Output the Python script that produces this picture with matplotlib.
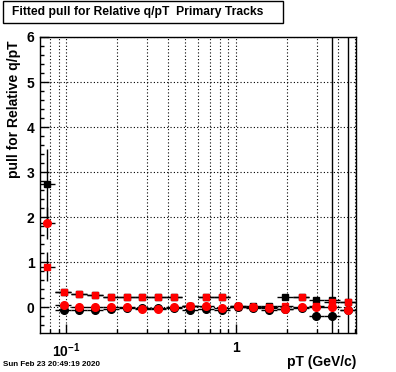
import numpy as np
import matplotlib
matplotlib.use("Agg")
from matplotlib import pyplot as plt
from matplotlib.patches import Rectangle
from matplotlib.ticker import FixedLocator, NullFormatter, FixedFormatter

plt.rcParams['font.family'] = ['Liberation Sans', 'DejaVu Sans']
plt.rcParams['font.weight'] = 'bold'
plt.rcParams['mathtext.fontset'] = 'custom'
plt.rcParams['mathtext.rm'] = 'Liberation Sans:bold'
plt.rcParams['mathtext.bf'] = 'Liberation Sans:bold'

# pT bins (GeV/c): edges and centres
bin_edges = [0.0700, 0.0862, 0.107, 0.133, 0.165, 0.205, 0.254, 0.315, 0.388, 0.481,
             0.597, 0.741, 0.921, 1.141, 1.405, 1.74, 2.17, 2.69, 3.32, 4.12, 5.1]
pt = [0.0773, 0.0964, 0.1188, 0.1486, 0.184, 0.2295, 0.281, 0.3476, 0.432, 0.536,
      0.666, 0.824, 1.03, 1.264, 1.563, 1.94, 2.436, 2.98, 3.70, 4.58]

# fitted pull values
black_sq = [2.73, 0.33, 0.30, 0.27, 0.23, 0.22, 0.23, 0.22, 0.22, 0.03,
            0.22, 0.22, 0.02, 0.02, 0.02, 0.22, 0.22, 0.17, 0.17, 0.12]
black_sq_err = [0.78, 0.03, 0.03, 0.03, 0.03, 0.03, 0.03, 0.03, 0.03, 0.03,
                0.03, 0.03, 0.03, 0.03, 0.03, 0.03, 0.03, 0.05, 9.0, 0.05]
red_sq = [0.90, 0.33, 0.30, 0.27, 0.23, 0.22, 0.23, 0.22, 0.22, 0.04,
          0.22, 0.22, 0.01, 0.00, 0.00, 0.04, 0.22, 0.02, 0.12, 0.12]
red_sq_err = [0.32, 0.03, 0.03, 0.03, 0.03, 0.03, 0.03, 0.03, 0.03, 0.03,
              0.03, 0.03, 0.03, 0.03, 0.03, 0.03, 0.03, 0.05, 0.05, 0.05]
black_ci = [np.nan, -0.07, -0.05, -0.05, -0.03, -0.02, -0.01, -0.01, -0.01, -0.07,
            -0.03, -0.07, 0.00, -0.01, -0.05, -0.03, -0.02, -0.20, -0.20, -0.05]
black_ci_err = [0.0, 0.03, 0.03, 0.03, 0.03, 0.03, 0.03, 0.03, 0.03, 0.03,
                0.03, 0.03, 0.03, 0.03, 0.03, 0.03, 0.03, 0.05, 0.05, 9.0]
red_ci = [1.87, 0.05, 0.00, 0.00, 0.00, 0.00, -0.03, -0.03, 0.00, 0.02,
          0.02, -0.02, 0.03, 0.00, -0.02, -0.04, 0.00, 0.00, 0.00, -0.05]
red_ci_err = [0.36, 0.03, 0.03, 0.03, 0.03, 0.03, 0.03, 0.03, 0.03, 0.03,
              0.03, 0.03, 0.03, 0.03, 0.03, 0.03, 0.03, 0.05, 0.05, 0.05]

x_major = [0.1, 1]
x_minor = [0.08, 0.09, 0.2, 0.3, 0.4, 0.5, 0.6, 0.7, 0.8, 0.9, 2, 3, 4, 5]
x_labels = [r'$10^{-1}$', '1']

W, H = 396, 372
fig = plt.figure(figsize=(W / 100, H / 100), dpi=100)
ax = fig.add_axes([40 / W, 1 - 333 / H, 316 / W, 296 / H])

x = np.array(pt)
edges = np.array(bin_edges)
xerr = [x - edges[:-1], edges[1:] - x]

series = [
    (black_sq, black_sq_err, 's', 'black', 5.0),
    (red_sq, red_sq_err, 's', 'red', 5.0),
    (black_ci, black_ci_err, 'o', 'black', 5.5),
    (red_ci, red_ci_err, 'o', 'red', 5.5),
]
for y, yerr, marker, color, ms in series:
    ax.errorbar(x, y, xerr=xerr, yerr=yerr, fmt=marker, color='black', ecolor='black',
                mfc=color, mec=color, ms=ms, elinewidth=1.0, capsize=0, zorder=3)

ax.set_xscale('log')
ax.set_xlim(0.0700, 5.1)
ax.set_ylim(-0.57, 6)

ax.xaxis.set_major_locator(FixedLocator(x_major))
ax.xaxis.set_major_formatter(FixedFormatter(x_labels))
ax.xaxis.set_minor_locator(FixedLocator(x_minor))
ax.xaxis.set_minor_formatter(NullFormatter())
ax.yaxis.set_major_locator(FixedLocator([0, 1, 2, 3, 4, 5, 6]))
ax.yaxis.set_minor_locator(FixedLocator(np.arange(-0.4, 6.0, 0.2)))

ax.tick_params(which='both', direction='in', top=False, right=False, width=1,
               labelsize=10, pad=4)
ax.tick_params(which='major', length=6.5)
ax.tick_params(which='minor', length=3.2)
ax.tick_params(axis='x', pad=6)

grid_style = dict(color='black', linestyle=(0, (1, 2)), linewidth=0.8)
ax.grid(True, which='major', axis='both', **grid_style)
ax.grid(True, which='minor', axis='x', **grid_style)
ax.set_axisbelow(True)
for sp in ax.spines.values():
    sp.set_linewidth(1)

# axis titles, ROOT style (right/top aligned)
fig.text(356 / W, 1 - 362 / H, 'pT (GeV/c)', ha='right', va='center',
         fontsize=10, fontweight='bold')
fig.text(14 / W, 1 - 40 / H, 'pull for Relative q/pT', ha='center', va='top',
         rotation=90, fontsize=10, fontweight='bold')

# title box
fig.patches.append(Rectangle((3 / W, 1 - 23 / H), 280 / W, 22 / H, transform=fig.transFigure,
                             facecolor='white', edgecolor='black', linewidth=1))
fig.text(138 / W, 1 - 12 / H, 'Fitted pull for Relative q/pT  Primary Tracks',
         ha='center', va='center', fontsize=8.7, fontweight='bold')

fig.text(3 / W, 1 - 365 / H, 'Sun Feb 23 20:49:19 2020', ha='left', va='center',
         fontsize=5.8, fontweight='bold')

fig.savefig('out.png', dpi=100)
